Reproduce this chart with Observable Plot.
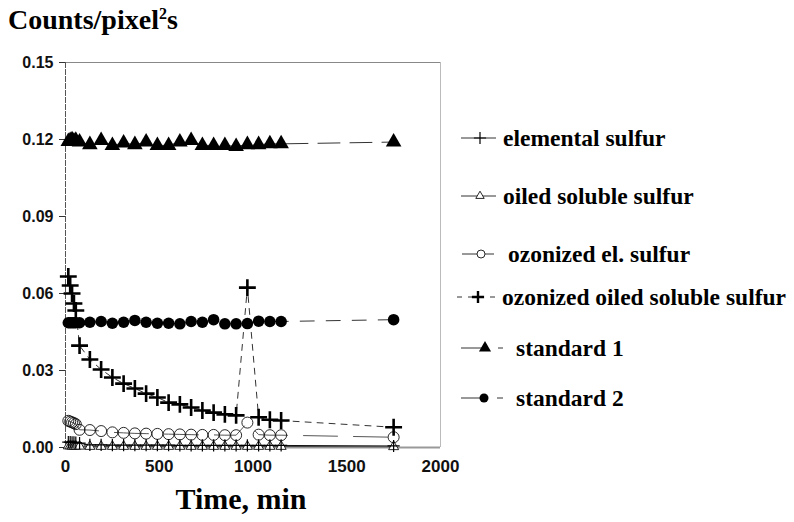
<!DOCTYPE html>
<html>
<head>
<meta charset="utf-8">
<script src="https://cdn.jsdelivr.net/npm/d3@7"></script>
<script src="https://cdn.jsdelivr.net/npm/@observablehq/plot@0.6"></script>
<style>
  html, body { margin: 0; padding: 0; background: #fff; }
  #wrap { position: relative; width: 794px; height: 522px; overflow: hidden; }
  #chart { position: absolute; left: 0; top: 0; }
  #title { position: absolute; left: 8px; top: 4px; font-family: "Liberation Serif", "Times New Roman", serif; font-weight: bold; font-size: 28px; color: #000; white-space: nowrap; }
  #title sup { font-size: 16px; vertical-align: super; line-height: 0; }
  #xlabel { position: absolute; left: 241px; top: 482px; transform: translateX(-50%); font-family: "Liberation Serif", "Times New Roman", serif; font-weight: bold; font-size: 30px; color: #000; white-space: nowrap; }
  #legend { position: absolute; left: 0; top: 0; width: 794px; height: 522px; }
</style>
</head>
<body>
<div id="wrap">
  <div id="chart"></div>
  <div id="title">Counts/pixel<sup>2</sup>s</div>
  <div id="xlabel">Time, min</div>
  <div id="legend"></div>
</div>
<script>
// ---------- data ----------
const time = [15, 25, 35, 45, 55, 75,
  130, 190, 250, 310, 370, 430, 490, 550, 610, 670, 730, 790, 850, 910, 970, 1030, 1090, 1150,
  1750];

const elementalSulfur = [0.0021, 0.0021, 0.0020, 0.0020, 0.0019, 0.0017,
  0.0010, 0.0010, 0.0009, 0.0009, 0.0009, 0.0009, 0.0009, 0.0009, 0.0008, 0.0008, 0.0008, 0.0008, 0.0008, 0.0008, 0.0008, 0.0008, 0.0008, 0.0008,
  0.0006];

const oiledSolubleSulfur = [0.0006, 0.0006, 0.0005, 0.0005, 0.0005, 0.0005,
  0.0004, 0.0004, 0.0004, 0.0004, 0.0004, 0.0004, 0.0004, 0.0004, 0.0004, 0.0004, 0.0004, 0.0004, 0.0004, 0.0004, 0.0004, 0.0004, 0.0004, 0.0004,
  0.0003];

const ozonizedElSulfur = [0.0104, 0.0101, 0.0098, 0.0095, 0.0091, 0.0069,
  0.0068, 0.0064, 0.0059, 0.0057, 0.0055, 0.0054, 0.0053, 0.0052, 0.0051, 0.0050, 0.0049, 0.0049, 0.0048, 0.0048, 0.0097, 0.0050, 0.0048, 0.0048,
  0.0040];

const ozonizedOiledSolubleSulfur = [0.0666, 0.0631, 0.0600, 0.0561, 0.0534, 0.0397,
  0.0343, 0.0304, 0.0273, 0.0249, 0.0230, 0.0210, 0.0195, 0.0175, 0.0168, 0.0156, 0.0144, 0.0136, 0.0129, 0.0125, 0.0623, 0.0118, 0.0108, 0.0105,
  0.0079];

const standard1 = [0.1192, 0.1196, 0.1199, 0.1194, 0.1197, 0.1190,
  0.1180, 0.1196, 0.1177, 0.1186, 0.1180, 0.1190, 0.1177, 0.1177, 0.1190, 0.1196, 0.1177, 0.1177, 0.1177, 0.1173, 0.1180, 0.1180, 0.1183, 0.1183,
  0.1190];

const standard2 = [0.0486, 0.0486, 0.0486, 0.0486, 0.0486, 0.0486,
  0.0488, 0.0491, 0.0484, 0.0488, 0.0495, 0.0488, 0.0484, 0.0484, 0.0482, 0.0491, 0.0488, 0.0498, 0.0482, 0.0482, 0.0483, 0.0492, 0.0491, 0.0491,
  0.0498];

const seriesNames = ["elemental sulfur", "oiled soluble sulfur", "ozonized el. sulfur",
  "ozonized oiled soluble sulfur", "standard 1", "standard 2"];

const xTicks = [0, 500, 1000, 1500, 2000];
const yTicks = [0.00, 0.03, 0.06, 0.09, 0.12, 0.15];

// ---------- build rows ----------
const rows = (vals) => time.map((t, i) => ({t, v: vals[i]}));
const dElem = rows(elementalSulfur);
const dOiled = rows(oiledSolubleSulfur);
const dOzEl = rows(ozonizedElSulfur);
const dOzOiled = rows(ozonizedOiledSolubleSulfur);
const dStd1 = rows(standard1);
const dStd2 = rows(standard2);

const W = 794, H = 522;
const chart = Plot.plot({
  width: W,
  height: H,
  marginLeft: 65,
  marginRight: W - 440,
  marginTop: 62,
  marginBottom: H - 447,
  style: {fontFamily: "'Liberation Sans', Arial, sans-serif", fontSize: "16px", background: "white", overflow: "visible"},
  x: {domain: [0, 2000]},
  y: {domain: [0, 0.15]},
  marks: [
    Plot.ruleY([0.15], {stroke: "#888", strokeWidth: 1.2}),
    Plot.ruleX([2000], {stroke: "#bbb", strokeWidth: 1}),
    Plot.ruleX([0], {stroke: "#555", strokeWidth: 1, strokeDasharray: "6 1"}),
    Plot.ruleY([0], {stroke: "#999", strokeWidth: 2}),
    Plot.axisY({ticks: yTicks, tickFormat: d3.format(".2f"), tickSize: 6, tickPadding: 6, label: null,
      fontSize: 16, fontWeight: "bold", fill: "#111", stroke: "#333"}),
    Plot.axisX({ticks: xTicks, tickFormat: d3.format("d"), tickSize: 0, tickPadding: 12, label: null,
      fontSize: 17, fontWeight: "bold", fill: "#111"}),
    // lines
    Plot.line(dElem, {x: "t", y: "v", stroke: "#111", strokeWidth: 1}),
    Plot.line(dOiled, {x: "t", y: "v", stroke: "#444", strokeWidth: 1}),
    Plot.line(dOzEl, {x: "t", y: "v", stroke: "#555", strokeWidth: 1, strokeDasharray: "34 16"}),
    Plot.line(dOzOiled, {x: "t", y: "v", stroke: "#333", strokeWidth: 1, strokeDasharray: "6 6"}),
    Plot.line(dStd1, {x: "t", y: "v", stroke: "#333", strokeWidth: 1, strokeDasharray: "22 10"}),
    Plot.line(dStd2, {x: "t", y: "v", stroke: "#333", strokeWidth: 1, strokeDasharray: "14 12"}),
    // markers
    Plot.dot(dOiled, {x: "t", y: "v", symbol: "triangle2", r: 4.8, stroke: "#111", strokeWidth: 0.9, fill: "white"}),
    Plot.dot(dElem, {x: "t", y: "v", symbol: "plus", r: 4, stroke: "#000", strokeWidth: 1.2}),
    Plot.dot(dOzEl, {x: "t", y: "v", symbol: "circle", r: 5.5, stroke: "#111", strokeWidth: 0.9, fill: "none"}),
    Plot.dot(dOzOiled, {x: "t", y: "v", symbol: "plus", r: 5.5, stroke: "#000", strokeWidth: 2.6}),
    Plot.dot(dStd1, {x: "t", y: "v", symbol: "triangle", r: 5.8, fill: "#000", stroke: "none"}),
    Plot.dot(dStd2, {x: "t", y: "v", symbol: "circle", r: 5.8, fill: "#000", stroke: "none"})
  ]
});
document.getElementById("chart").appendChild(chart);

// ---------- legend ----------
const legendSpec = [
  {y: 138, tx: 503, sym: "plus", fill: "none", stroke: "#000", sw: 1.2, r: 4, cx: 480, line: [461, 496], dash: null},
  {y: 196, tx: 503, sym: "triangle2", fill: "white", stroke: "#111", sw: 0.9, r: 4, cx: 480, line: [461, 496], dash: null},
  {y: 254, tx: 508, sym: "circle", fill: "white", stroke: "#111", sw: 0.9, r: 4, cx: 481, line: [462, 494], dash: null},
  {y: 297, tx: 502, sym: "plus", fill: "none", stroke: "#000", sw: 2.4, r: 4, cx: 478, line: [457, 499], dash: "5 6"},
  {y: 348, tx: 516, sym: "triangle", fill: "#000", stroke: "none", sw: 0, r: 4.5, cx: 485, line: [461, 503], dash: "26 11"},
  {y: 398, tx: 516, sym: "circle", fill: "#000", stroke: "none", sw: 0, r: 4.5, cx: 484, line: [461, 503], dash: "23 13"}
];
const symMap = {plus: d3.symbolPlus, triangle2: d3.symbolTriangle2, circle: d3.symbolCircle, triangle: d3.symbolTriangle};
const legSvg = d3.select("#legend").append("svg").attr("width", W).attr("height", H)
  .style("position", "absolute").style("left", "0px").style("top", "0px");
legendSpec.forEach((s, i) => {
  legSvg.append("line").attr("x1", s.line[0]).attr("x2", s.line[1]).attr("y1", s.y).attr("y2", s.y)
    .attr("stroke", "#333").attr("stroke-width", 1).attr("stroke-dasharray", s.dash);
  legSvg.append("path").attr("transform", `translate(${s.cx},${s.y})`)
    .attr("d", d3.symbol(symMap[s.sym], Math.PI * s.r * s.r)())
    .attr("fill", s.fill).attr("stroke", s.stroke).attr("stroke-width", s.sw);
  legSvg.append("text").attr("x", s.tx).attr("y", s.y).attr("dy", "0.35em")
    .attr("font-family", "'Liberation Serif', 'Times New Roman', serif")
    .attr("font-weight", "bold").attr("font-size", 23.5).attr("fill", "#000")
    .text(seriesNames[i]);
});
</script>
</body>
</html>
